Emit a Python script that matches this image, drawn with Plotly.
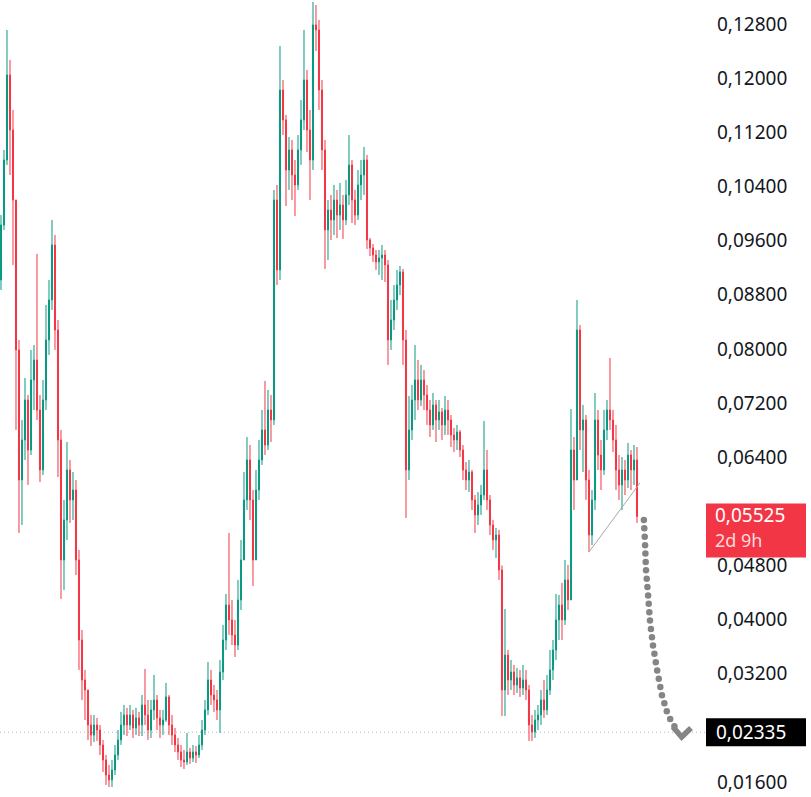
import numpy as np
import plotly.graph_objects as go

# ---------------- data ----------------
first_open = 0.09018

close = [
    0.09831, 0.10791, 0.12047, 0.11234, 0.10200, 0.07984, 0.06063, 0.06654, 0.07245, 0.06506,
    0.07541, 0.07836, 0.07097, 0.06211, 0.07245, 0.08132, 0.08723, 0.09535, 0.08279, 0.06654,
    0.04881, 0.05472, 0.06211, 0.05768, 0.05915, 0.04881, 0.03699, 0.03108, 0.02960, 0.02443,
    0.02295, 0.02443, 0.02369, 0.02148, 0.01926, 0.01704, 0.01631, 0.01778, 0.02000, 0.02222,
    0.02443, 0.02591, 0.02443, 0.02591, 0.02399, 0.02547, 0.02443, 0.02739, 0.02591, 0.02369,
    0.02665, 0.02813, 0.02547, 0.02443, 0.02517, 0.02857, 0.02443, 0.02295, 0.02148, 0.02044,
    0.01926, 0.01896, 0.02044, 0.01956, 0.02044, 0.02000, 0.02148, 0.02369, 0.02665, 0.03108,
    0.02886, 0.02813, 0.02665, 0.03226, 0.03699, 0.04216, 0.03995, 0.03773, 0.03625, 0.04290,
    0.04881, 0.05768, 0.06359, 0.05768, 0.04881, 0.05915, 0.06359, 0.06802, 0.06580, 0.07097,
    0.06950, 0.10200, 0.09166, 0.11825, 0.11382, 0.10643, 0.10939, 0.10569, 0.10422, 0.10939,
    0.11382, 0.11973, 0.11234, 0.10791, 0.12786, 0.12712, 0.11825, 0.10939, 0.09757, 0.10052,
    0.09905, 0.10200, 0.09978, 0.10126, 0.09905, 0.10274, 0.10717, 0.10200, 0.09978, 0.10422,
    0.10569, 0.10791, 0.09609, 0.09491, 0.09387, 0.09284, 0.09343, 0.09387, 0.09240, 0.08132,
    0.08427, 0.08723, 0.08944, 0.09136, 0.08132, 0.06211, 0.06802, 0.07245, 0.07541, 0.07245,
    0.07541, 0.07319, 0.07097, 0.06876, 0.07171, 0.06950, 0.07068, 0.06876, 0.07097, 0.06950,
    0.06728, 0.06654, 0.06772, 0.06506, 0.06211, 0.06063, 0.06181, 0.05768, 0.05546, 0.05694,
    0.05841, 0.06211, 0.05768, 0.05398, 0.05177, 0.05250, 0.04733, 0.02960, 0.03477, 0.03108,
    0.03226, 0.03034, 0.03138, 0.02990, 0.03108, 0.02960, 0.02443, 0.02340, 0.02517, 0.02591,
    0.02813, 0.02665, 0.02960, 0.03256, 0.03551, 0.03995, 0.04216, 0.03995, 0.04586, 0.04290,
    0.06506, 0.06063, 0.08279, 0.06802, 0.06950, 0.06063, 0.05250, 0.05768, 0.06950, 0.06432,
    0.06211, 0.06802, 0.07097, 0.06950, 0.06654, 0.06211, 0.05989, 0.06211, 0.06063, 0.06432,
    0.06211, 0.06359, 0.05525,
]

high = [
    0.09978, 0.10939, 0.12712, 0.12269, 0.11530, 0.10200, 0.08132, 0.06950, 0.07570, 0.07319,
    0.07984, 0.08058, 0.09402, 0.07319, 0.07541, 0.08649, 0.09018, 0.09905, 0.09683, 0.08427,
    0.06802, 0.05768, 0.06624, 0.06359, 0.06181, 0.06063, 0.05029, 0.03847, 0.03256, 0.02960,
    0.02591, 0.02591, 0.02547, 0.02443, 0.02222, 0.02000, 0.01852, 0.01926, 0.02148, 0.02369,
    0.02636, 0.02739, 0.02695, 0.02739, 0.02665, 0.02695, 0.02636, 0.02886, 0.03271, 0.02813,
    0.02813, 0.03182, 0.02886, 0.02665, 0.02665, 0.03064, 0.02886, 0.02591, 0.02399, 0.02251,
    0.02148, 0.02074, 0.02325, 0.02104, 0.02148, 0.02133, 0.02295, 0.02517, 0.02813, 0.03374,
    0.03256, 0.03034, 0.02960, 0.03404, 0.03921, 0.04379, 0.05280, 0.04290, 0.03995, 0.04586,
    0.05177, 0.06181, 0.06698, 0.06580, 0.05915, 0.06211, 0.06654, 0.07097, 0.07526, 0.07393,
    0.07319, 0.10348, 0.10422, 0.12475, 0.11973, 0.11456, 0.11131, 0.11087, 0.10791, 0.11160,
    0.11678, 0.12712, 0.12121, 0.11530, 0.13125, 0.13081, 0.12860, 0.11973, 0.11087, 0.10200,
    0.10274, 0.10422, 0.10348, 0.10452, 0.10274, 0.10496, 0.11160, 0.10791, 0.10348, 0.10643,
    0.10791, 0.10984, 0.10865, 0.09638, 0.09550, 0.09461, 0.09461, 0.09535, 0.09461, 0.09314,
    0.08723, 0.08944, 0.09166, 0.09225, 0.09180, 0.08279, 0.07304, 0.07467, 0.08058, 0.07836,
    0.07762, 0.07688, 0.07467, 0.07245, 0.07349, 0.07245, 0.07245, 0.07127, 0.07304, 0.07245,
    0.07023, 0.06831, 0.06876, 0.06802, 0.06580, 0.06329, 0.06359, 0.06211, 0.05841, 0.05885,
    0.05989, 0.06935, 0.06506, 0.05841, 0.05472, 0.05354, 0.05324, 0.04800, 0.04157, 0.03551,
    0.03404, 0.03330, 0.03285, 0.03256, 0.03330, 0.03256, 0.03034, 0.02591, 0.02665, 0.02739,
    0.02960, 0.03108, 0.03182, 0.03551, 0.03699, 0.04379, 0.04364, 0.04541, 0.04881, 0.04807,
    0.07112, 0.06698, 0.08723, 0.08353, 0.07171, 0.07023, 0.06211, 0.05915, 0.07349, 0.07097,
    0.06654, 0.07097, 0.07245, 0.07866, 0.07097, 0.06876, 0.06432, 0.06402, 0.06359, 0.06610,
    0.06506, 0.06580, 0.06550,
]

low = [
    0.08870, 0.09757, 0.10717, 0.10569, 0.09240, 0.06802, 0.05280, 0.05398, 0.06359, 0.05989,
    0.06432, 0.07097, 0.06950, 0.06033, 0.06137, 0.07097, 0.07910, 0.08575, 0.07984, 0.06107,
    0.04305, 0.04438, 0.05177, 0.05428, 0.05472, 0.04659, 0.03256, 0.02813, 0.02517, 0.02222,
    0.02133, 0.02192, 0.02207, 0.02000, 0.01749, 0.01557, 0.01527, 0.01527, 0.01704, 0.01926,
    0.02148, 0.02295, 0.02280, 0.02369, 0.02251, 0.02295, 0.02280, 0.02280, 0.02443, 0.02222,
    0.02251, 0.02517, 0.02369, 0.02251, 0.02295, 0.02488, 0.02295, 0.02148, 0.02044, 0.01926,
    0.01822, 0.01793, 0.01852, 0.01867, 0.01896, 0.01882, 0.01956, 0.02074, 0.02295, 0.02591,
    0.02739, 0.02636, 0.02517, 0.02325, 0.03108, 0.03551, 0.03773, 0.03625, 0.03447, 0.03551,
    0.04142, 0.04881, 0.05620, 0.05472, 0.04497, 0.04881, 0.05768, 0.06285, 0.06432, 0.06506,
    0.06624, 0.06876, 0.08944, 0.09018, 0.11160, 0.10111, 0.10348, 0.10200, 0.09963, 0.10348,
    0.10717, 0.11234, 0.10909, 0.10200, 0.10643, 0.12401, 0.11530, 0.10643, 0.09181, 0.09314,
    0.09609, 0.09683, 0.09638, 0.09757, 0.09624, 0.09831, 0.10126, 0.09860, 0.09831, 0.09905,
    0.10200, 0.10274, 0.09476, 0.09372, 0.09284, 0.09166, 0.09092, 0.09018, 0.08988, 0.07762,
    0.07984, 0.08279, 0.08575, 0.08796, 0.07762, 0.05502, 0.06063, 0.06654, 0.06950, 0.07097,
    0.07156, 0.07097, 0.06876, 0.06698, 0.06802, 0.06624, 0.06802, 0.06654, 0.06728, 0.06728,
    0.06550, 0.06477, 0.06506, 0.06402, 0.06063, 0.05915, 0.05885, 0.05620, 0.05280, 0.05398,
    0.05546, 0.05768, 0.05620, 0.05250, 0.05029, 0.04910, 0.04586, 0.02576, 0.02576, 0.02886,
    0.02960, 0.02886, 0.02916, 0.02857, 0.02886, 0.02813, 0.02207, 0.02207, 0.02251, 0.02369,
    0.02443, 0.02547, 0.02591, 0.02886, 0.03108, 0.03404, 0.03699, 0.03699, 0.03921, 0.04142,
    0.04290, 0.05620, 0.06063, 0.06506, 0.06181, 0.05768, 0.04999, 0.05103, 0.05620, 0.06211,
    0.05915, 0.06137, 0.06654, 0.06802, 0.06477, 0.05915, 0.05768, 0.05620, 0.05841, 0.05944,
    0.05915, 0.05989, 0.05428,
]

tick_vals = [0.016, 0.032, 0.040, 0.048, 0.064, 0.072, 0.080, 0.088, 0.096, 0.104, 0.112, 0.120, 0.128]
tick_text = ["0,01600", "0,03200", "0,04000", "0,04800", "0,06400", "0,07200", "0,08000",
             "0,08800", "0,09600", "0,10400", "0,11200", "0,12000", "0,12800"]

last_price = 0.05525
last_label = "0,05525"
countdown = "2d 9h"
target_price = 0.02335
target_label = "0,02335"

# drawings (data coordinates: bar index, price)
trend_x = [196, 213]
trend_y = [0.04999, 0.06019]
arrow_x = [214.3, 214.7, 215.0, 215.7, 216.3, 217.3, 218.7, 220.3, 222.3, 224.8]
arrow_y = [0.05472, 0.05103, 0.04733, 0.04364, 0.03995, 0.03625, 0.03256, 0.02886, 0.02591, 0.02400]
head_x = [224.0, 226.9, 230.0]
head_y = [0.02414, 0.02265, 0.02399]

# ---------------- figure ----------------
n = len(close)
assert len(high) == n and len(low) == n
opens = [first_open] + close[:-1]
idx = list(range(n))

UP = "#089981"
DN = "#f23645"

W, H = 811, 797
R = 106
plot_w = W - R
x_range = [-0.33, 234.67]
y_range = [0.013789, 0.131546]

fig = go.Figure()
fig.add_trace(go.Candlestick(
    x=idx, open=opens, high=high, low=low, close=close,
    increasing=dict(line=dict(color=UP, width=1), fillcolor=UP),
    decreasing=dict(line=dict(color=DN, width=1), fillcolor=DN),
    whiskerwidth=0, showlegend=False, hoverinfo="skip",
))

# trend line
fig.add_trace(go.Scatter(x=trend_x, y=trend_y, mode="lines",
                         line=dict(color="#a9a9a9", width=1), showlegend=False, hoverinfo="skip"))

# dotted arrow: dots spaced evenly along the drawn path (in screen space)
px_per_x = plot_w / (x_range[1] - x_range[0])
px_per_y = H / (y_range[1] - y_range[0])
ax = np.array(arrow_x) * px_per_x
ay = np.array(arrow_y) * px_per_y
seg = np.hypot(np.diff(ax), np.diff(ay))
cum = np.concatenate([[0], np.cumsum(seg)])
s = np.arange(0, cum[-1] + 0.01, 8.4)
dots_x = np.interp(s, cum, ax) / px_per_x
dots_y = np.interp(s, cum, ay) / px_per_y
fig.add_trace(go.Scatter(x=dots_x, y=dots_y, mode="markers",
                         marker=dict(color="#858585", size=6.5, line=dict(width=0)),
                         showlegend=False, hoverinfo="skip"))
fig.add_trace(go.Scatter(x=head_x, y=head_y, mode="lines",
                         line=dict(color="#858585", width=5.5), showlegend=False, hoverinfo="skip"))

shapes = [
    dict(type="line", xref="paper", x0=0, x1=1, yref="y", y0=target_price, y1=target_price,
         line=dict(color="#b4b7bd", width=1, dash="1px,3px"), layer="below"),
    dict(type="rect", xref="paper", xsizemode="pixel", xanchor=1, x0=1, x1=101,
         yref="y", ysizemode="pixel", yanchor=last_price, y0=-41, y1=13,
         fillcolor=DN, line=dict(width=0)),
    dict(type="rect", xref="paper", xsizemode="pixel", xanchor=1, x0=1, x1=101,
         yref="y", ysizemode="pixel", yanchor=target_price, y0=-14, y1=14,
         fillcolor="#000000", line=dict(width=0)),
]

FONT = "Noto Sans"
FS = 19
annotations = [
    dict(xref="paper", x=1, xanchor="left", xshift=9, yref="y", y=last_price, yanchor="middle",
         yshift=1, borderpad=0, text=last_label, showarrow=False,
         font=dict(family=FONT, size=FS, color="#ffffff")),
    dict(xref="paper", x=1, xanchor="left", xshift=9, yref="y", y=last_price, yanchor="middle",
         yshift=-24, borderpad=0, text=countdown, showarrow=False,
         font=dict(family=FONT, size=18, color="#ffd9dc")),
    dict(xref="paper", x=1, xanchor="left", xshift=9, yref="y", y=target_price, yanchor="middle",
         text=target_label, showarrow=False, font=dict(family=FONT, size=FS, color="#ffffff")),
]

fig.update_layout(
    width=W, height=H,
    margin=dict(l=0, r=R, t=0, b=0),
    paper_bgcolor="#ffffff", plot_bgcolor="#ffffff",
    showlegend=False,
    boxgap=0.5,
    shapes=shapes, annotations=annotations,
    xaxis=dict(range=x_range, visible=False, rangeslider=dict(visible=False), fixedrange=True),
    yaxis=dict(range=y_range, side="right", showgrid=False, zeroline=False, showline=False,
               tickmode="array", tickvals=tick_vals, ticktext=tick_text, ticks="",
               ticklabelstandoff=11,
               tickfont=dict(family=FONT, size=FS, color="#131722"), fixedrange=True),
)

fig.write_html("out.html")
